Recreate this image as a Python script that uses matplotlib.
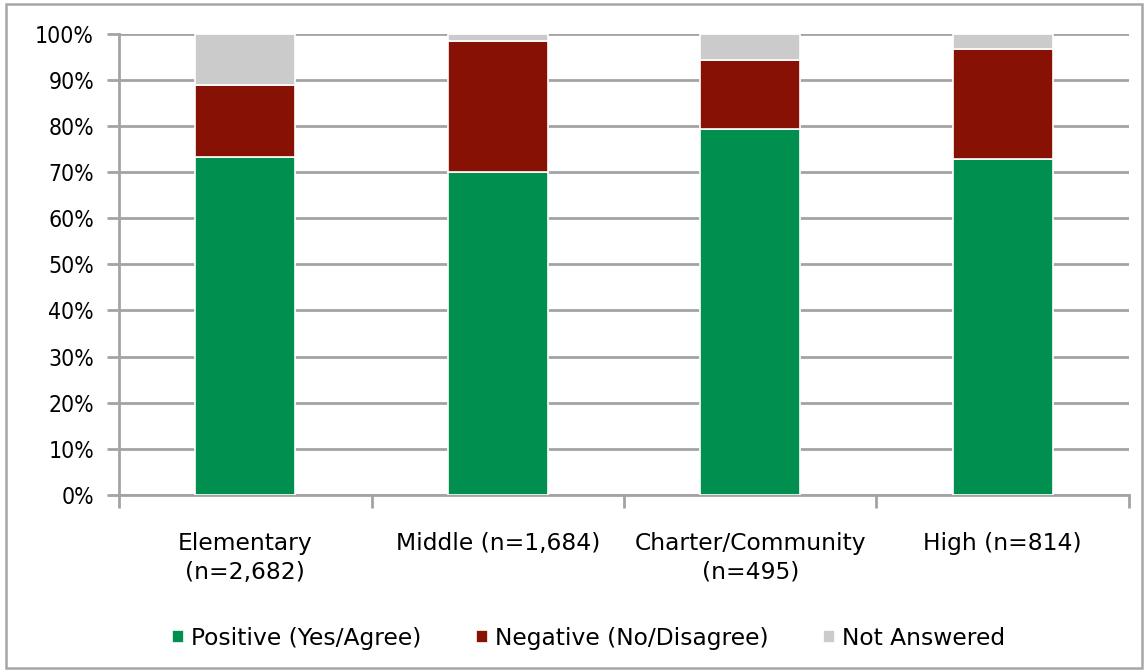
import numpy as np
import matplotlib.pyplot as plt
from matplotlib.patches import Rectangle

categories = ['Elementary\n(n=2,682)', 'Middle (n=1,684)', 'Charter/Community\n(n=495)', 'High (n=814)']
positive = [73.2, 70.0, 79.3, 72.9]
negative = [15.6, 28.4, 15.0, 23.7]
not_answered = [11.2, 1.6, 5.7, 3.4]
series_names = ['Positive (Yes/Agree)', 'Negative (No/Disagree)', 'Not Answered']
colors = ['#008F4F', '#861104', '#CBCBCB']

plt.rcParams['font.family'] = ['DejaVu Sans']
fs = 16.8

fig = plt.figure(figsize=(11.48, 6.72), dpi=100)
ax = fig.add_axes([0.1037, 0.2634, 0.8797, 0.6866])

# outer frame around the whole chart
fig.patches.append(Rectangle((0.005, 0.006), 0.99, 0.988, transform=fig.transFigure,
                             fill=False, edgecolor='#a6a6a6', linewidth=1.8))

x = np.arange(len(categories))
bottom = np.zeros(len(categories))
for vals, name, c in zip([positive, negative, not_answered], series_names, colors):
    ax.bar(x, vals, width=0.395, bottom=bottom, color=c, edgecolor='white',
           linewidth=1.2, label=name, zorder=3)
    bottom += np.array(vals)

ax.set_xlim(-0.5, len(categories) - 0.5)
ax.set_ylim(0, 100)
ax.set_yticks(np.arange(0, 101, 10))
ax.set_yticklabels(['%d%%' % v for v in range(0, 101, 10)], fontsize=16.5,
                   fontstretch='condensed')
ax.yaxis.grid(True, color='#a3a3a3', linewidth=2, zorder=0)
ax.tick_params(axis='y', length=9, width=2, color='#a3a3a3', pad=9)

# category labels centred, tick marks on the boundaries
ax.set_xticks(np.arange(-0.5, len(categories)), minor=False)
ax.set_xticklabels([])
ax.set_xticks(x, minor=True)
ax.set_xticklabels(categories, minor=True, fontsize=fs, linespacing=1.3)
ax.tick_params(axis='x', which='major', length=9, width=2, color='#a3a3a3')
ax.tick_params(axis='x', which='minor', length=0, pad=27)

for s in ['top', 'right']:
    ax.spines[s].set_visible(False)
for s in ['left', 'bottom']:
    ax.spines[s].set_color('#a3a3a3')
    ax.spines[s].set_linewidth(2)

ax.legend(loc='center', bbox_to_anchor=(0.465, -0.31), ncol=3, frameon=False,
          fontsize=fs, handlelength=0.5, handleheight=0.5, handletextpad=0.3,
          columnspacing=2.35)

fig.savefig('out.png', dpi=100)
